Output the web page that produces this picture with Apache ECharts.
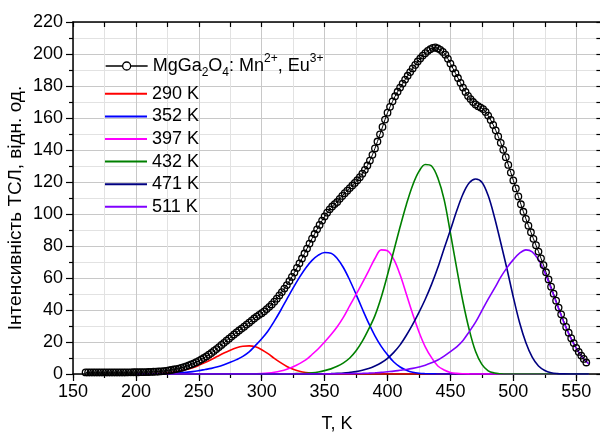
<!DOCTYPE html>
<html>
<head>
<meta charset="utf-8">
<script src="https://cdn.jsdelivr.net/npm/echarts@6.0.0/dist/echarts.min.js"></script>
<style>
  html, body { margin: 0; padding: 0; background: #fff; }
  #main { width: 600px; height: 432px; }
</style>
</head>
<body>
<div id="main"></div>
<script>
// temperatures of the measured curve (every 2 K)
let tTotal = [
  160,162,164,166,168,170,172,174,176,178, 180,182,184,186,188,190,192,194,196,198,
  200,202,204,206,208,210,212,214,216,218, 220,222,224,226,228,230,232,234,236,238,
  240,242,244,246,248,250,252,254,256,258, 260,262,264,266,268,270,272,274,276,278,
  280,282,284,286,288,290,292,294,296,298, 300,302,304,306,308,310,312,314,316,318,
  320,322,324,326,328,330,332,334,336,338, 340,342,344,346,348,350,352,354,356,358,
  360,362,364,366,368,370,372,374,376,378, 380,382,384,386,388,390,392,394,396,398,
  400,402,404,406,408,410,412,414,416,418, 420,422,424,426,428,430,432,434,436,438,
  440,442,444,446,448,450,452,454,456,458, 460,462,464,466,468,470,472,474,476,478,
  480,482,484,486,488,490,492,494,496,498, 500,502,504,506,508,510,512,514,516,518,
  520,522,524,526,528,530,532,534,536,538, 540,542,544,546,548,550,552,554,556,558
];
// measured TSL intensity
let total = [
  1.0,1.0,1.0,1.0,1.0,1.0,1.0,1.0,1.0,1.0,
  1.0,1.0,1.0,1.0,1.0,1.0,1.0,1.05,1.05,1.1,
  1.1,1.1,1.15,1.15,1.2,1.25,1.3,1.4,1.45,1.55,
  1.7,1.85,2.0,2.25,2.5,2.8,3.1,3.4,3.8,4.3,
  4.8,5.4,6.0,6.7,7.4,8.2,9.1,10.0,11.0,12.1,
  13.2,14.4,15.6,16.8,18.2,19.5,20.8,22.1,23.4,24.7,
  26.0,27.2,28.4,29.6,30.9,32.1,33.4,34.7,35.9,37.0,
  38.0,39.2,40.6,42.0,43.5,45.2,47.1,49.1,51.2,53.4,
  55.6,58.1,60.7,63.4,66.3,69.2,72.2,75.3,78.4,81.5,
  84.6,87.5,90.4,93.2,95.9,98.5,100.8,102.9,104.7,106.2,
  107.5,109.5,111.3,113.0,114.6,116.2,117.8,119.4,121.1,123.0,
  125.2,127.6,130.3,133.4,137.0,141.0,145.3,149.8,154.4,159.0,
  163.3,167.0,170.4,173.6,176.4,179.0,181.5,184.0,186.4,188.7,
  191.0,193.2,195.3,197.2,199.0,200.5,201.9,203.0,203.8,204.1,
  203.5,202.6,201.3,199.6,197.0,194.0,191.0,188.0,185.0,182.0,
  179.0,176.3,173.8,171.8,170.0,168.5,167.4,166.5,165.6,163.8,
  161.5,158.8,155.7,152.3,148.5,144.5,140.1,135.5,130.7,125.9,
  121.0,116.0,111.0,106.1,101.4,97.0,92.7,88.6,84.5,80.5,
  76.5,72.3,68.1,63.6,59.1,54.6,50.2,45.8,41.5,37.3,
  33.2,29.4,25.8,22.4,19.3,16.3,13.8,11.5,9.4,7.2
];

// temperatures of the fitted peaks (every 5 K)
let tComp = [
  200,205,210,215,220,225,230,235,240,245,250,255,260,265,270,275,280,285,290,295,
  300,305,310,315,320,325,330,335,340,345,350,355,360,365,370,375,380,385,390,395,
  400,405,410,415,420,425,430,435,440,445,450,455,460,465,470,475,480,485,490,495,
  500,505,510,515,520,525,530,535,540,545,550,555,560
];
let peak290 = [
  0.04,0.08,0.15,0.27,0.47,0.77,1.23,1.88,2.77,3.9,5.4,7.1,9.05,11.1,13.1,14.9,16.35,17.3,17.6,17.0,
  15.2,12.7,9.8,7.1,4.7,2.9,1.7,0.9,0.45,0.2,0.1,0.04,0,0,0,0,0,0,0,0,
  0,0,0,0,0,0,0,0,0,0,0,0,0,0,0,0,0,0,0,0,
  0,0,0,0,0,0,0,0,0,0,0,0,0
];
let peak352 = [
  0,0,0.05,0.1,0.2,0.3,0.5,0.75,1.1,1.5,2.1,2.8,3.5,4.5,5.8,7.3,9.0,11.0,13.8,17.8,
  22.0,26.9,33.0,39.7,46.8,53.8,60.4,66.3,71.0,74.3,75.9,75.5,72.2,66.4,58.6,49.8,40.6,31.8,23.9,17.3,
  12.0,7.5,4.4,2.4,1.1,0.45,0.2,0.08,0.03,0,0,0,0,0,0,0,0,0,0,0,
  0,0,0,0,0,0,0,0,0,0,0,0,0
];
let peak397 = [
  0,0,0,0,0,0,0,0,0,0,0,0,0,0,0,0,0,0,0.05,0.15,
  0.3,0.6,1.1,1.9,3.0,4.5,6.5,8.8,12.2,15.8,20,24.5,29.5,35.5,42.7,49.7,57,64.5,72.2,77.6,
  77.0,71.6,62,49.8,37.5,26.3,17.0,10.2,5.0,2.5,1.0,0.4,0.15,0.05,0,0,0,0,0,0,
  0,0,0,0,0,0,0,0,0,0,0,0,0
];
let peak432 = [
  0,0,0,0,0,0,0,0,0,0,0,0,0,0,0,0,0,0,0,0,
  0,0,0,0,0.07,0.15,0.3,0.5,0.8,1.3,2.1,3.2,4.8,7,10,14.5,20.5,28,36.5,48,
  62,77,92,106,118,126.6,130.9,130,122.5,109,88,66,45,27.5,14,6,2,0.6,0.15,0,
  0,0,0,0,0,0,0,0,0,0,0,0,0
];
let peak471 = [
  0,0,0,0,0,0,0,0,0,0,0,0,0,0,0,0,0,0,0,0,
  0,0,0,0,0,0,0,0,0.05,0.1,0.15,0.25,0.4,0.6,1.0,1.5,2.3,3.4,5.0,7.0,
  9.8,13.5,18.2,24.2,31,38.5,46.7,56,66.5,78.5,90,102,112.5,119.5,121.9,119.9,111.5,98,82,65.5,
  48,32,19.5,10.5,5,2.2,0.8,0.25,0.08,0,0,0,0
];
let peak511 = [
  0,0,0,0,0,0,0,0,0,0,0,0,0,0,0,0,0,0,0,0,
  0,0,0,0,0,0,0,0,0,0,0.05,0.07,0.1,0.15,0.2,0.3,0.4,0.55,0.75,1.0,
  1.4,1.8,2.3,2.8,3.5,4.4,5.5,7.0,8.8,11.2,14,17,21,26.5,32.4,39.6,46.8,53.5,60.5,66.5,
  71.5,75.5,77.6,76.4,71.5,63.5,53.5,42.9,32.6,23.5,16.1,10.3,6.3
];

let totalName = "MgGa2O4: Mn2+, Eu3+";
let peakNames = ["290 K", "352 K", "397 K", "432 K", "471 K", "511 K"];
let peakColors = ["#ff0000", "#0000ff", "#ff00ff", "#008000", "#000080", "#8000ff"];
let peakValues = [peak290, peak352, peak397, peak432, peak471, peak511];

let myChart = document.getElementById("main");
let initChart = echarts.init(myChart, null, { renderer: "canvas" });

let font = "Liberation Sans";
let black = { color: "#000", width: 1.5 };

let series = [
  {
    name: totalName,
    type: "line",
    data: tTotal.map((t, i) => [t, total[i]]),
    symbol: "circle",
    symbolSize: 6.5,
    itemStyle: { color: "rgba(255,255,255,0)", borderColor: "#000", borderWidth: 1.3 },
    lineStyle: { color: "#000", width: 1 },
  },
];
peakNames.forEach((name, k) => {
  series.push({
    name: name,
    type: "line",
    data: tComp.map((t, i) => [t, peakValues[k][i]]),
    symbol: "none",
    smooth: 0.35,
    lineStyle: { color: peakColors[k], width: 1.6 },
    itemStyle: { color: peakColors[k] },
  });
});

let option = {
  animation: false,
  grid: { left: 73, right: -1.4, top: 22, bottom: 58, containLabel: false, outerBoundsMode: "none" },

  legend: [
    {
      // line with one open circle in the middle
      data: [
        {
          name: totalName,
          icon: "path://M0,4L17,4M25,4L42,4M17,4A4,4,0,1,1,25,4A4,4,0,1,1,17,4",
        },
      ],
      orient: "vertical",
      left: 105,
      top: 53,
      padding: 0,
      itemWidth: 42,
      itemHeight: 8,
      selectedMode: false,
      itemStyle: { color: "rgba(255,255,255,0)", borderColor: "#000", borderWidth: 1.3 },
      formatter: () => "{a|MgGa}{sub|2}{a|O}{sub|4}{a|: Mn}{sup|2+}{a|, Eu}{sup|3+}",
      textStyle: {
        color: "#000",
        fontFamily: font,
        fontSize: 18,
        rich: {
          a: { fontSize: 18, fontFamily: font, color: "#000", lineHeight: 26 },
          sub: { fontSize: 12, fontFamily: font, color: "#000", lineHeight: 12, verticalAlign: "bottom" },
          sup: { fontSize: 12, fontFamily: font, color: "#000", lineHeight: 12, verticalAlign: "top" },
        },
      },
    },
    {
      // plain line samples for the fitted peaks
      data: peakNames.map((n) => ({ name: n, icon: "rect" })),
      orient: "vertical",
      left: 105,
      top: 84.8,
      padding: 0,
      itemGap: 4.6,
      itemWidth: 42,
      itemHeight: 2,
      selectedMode: false,
      textStyle: { color: "#000", fontFamily: font, fontSize: 18, lineHeight: 18 },
    },
  ],

  xAxis: [
    {
      type: "value",
      min: 150,
      max: 570,
      interval: 50,
      position: "bottom",
      axisLine: { show: true, lineStyle: black },
      axisTick: { show: true, length: 7, lineStyle: { color: "#000", width: 1.2 } },
      axisLabel: { fontSize: 18, fontFamily: font, color: "#000", margin: 9, showMaxLabel: false },
      splitLine: { show: false },
    },
    {
      // minor ticks and grid every 25 K
      type: "value",
      min: 150,
      max: 570,
      interval: 25,
      position: "bottom",
      axisLine: { show: false },
      axisTick: { show: true, length: 4, lineStyle: { color: "#000", width: 1.2 } },
      axisLabel: { show: false },
      splitLine: { show: true, lineStyle: { color: ["#c8c8c8", "#e2e2e2"], width: 1 } },
    },
    {
      type: "value",
      min: 150,
      max: 570,
      interval: 25,
      position: "top",
      axisLine: { show: true, lineStyle: black },
      axisTick: { show: true, inside: true, length: 5, lineStyle: { color: "#000", width: 1.2 } },
      axisLabel: { show: false },
      splitLine: { show: false },
    },
  ],

  yAxis: [
    {
      type: "value",
      min: 0,
      max: 220,
      interval: 20,
      position: "left",
      axisLine: { show: true, lineStyle: black },
      axisTick: { show: true, length: 7, lineStyle: { color: "#000", width: 1.2 } },
      minorTick: { show: true, splitNumber: 2, length: 4, lineStyle: { color: "#000", width: 1.2 } },
      axisLabel: { fontSize: 18, fontFamily: font, color: "#000", margin: 10 },
      splitLine: { show: true, lineStyle: { color: "#c8c8c8", width: 1 } },
      minorSplitLine: { show: true, lineStyle: { color: "#e2e2e2", width: 1 } },
    },
    {
      type: "value",
      min: 0,
      max: 220,
      interval: 10,
      position: "right",
      axisLine: { show: true, lineStyle: black },
      axisTick: { show: true, inside: true, length: 5, lineStyle: { color: "#000", width: 1.2 } },
      axisLabel: { show: false },
      splitLine: { show: false },
    },
  ],

  graphic: [
    {
      type: "text",
      x: 16,
      y: 208,
      rotation: Math.PI / 2,
      style: {
        text: "Інтенсивність ТСЛ, відн. од.",
        fontSize: 19,
        fontFamily: font,
        fill: "#000",
        align: "center",
        verticalAlign: "middle",
      },
    },
    {
      type: "text",
      x: 337,
      y: 424,
      style: {
        text: "T, K",
        fontSize: 18,
        fontFamily: font,
        fill: "#000",
        align: "center",
        verticalAlign: "middle",
      },
    },
  ],

  series: series,
};

initChart.setOption(option);
</script>
</body>
</html>
